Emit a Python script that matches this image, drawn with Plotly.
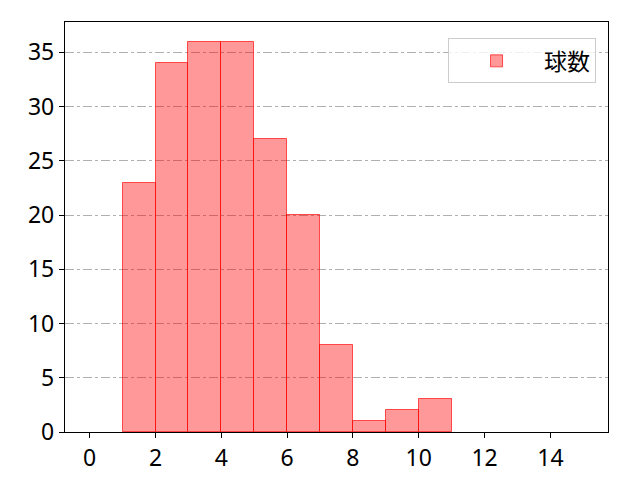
import plotly.graph_objects as go

bin_left = [1, 2, 3, 4, 5, 6, 7, 8, 9, 10]
counts = [23, 34, 36, 36, 27, 20, 8, 1, 2, 3]
series_name = "球数"
x_ticks = [0, 2, 4, 6, 8, 10, 12, 14]
y_ticks = [0, 5, 10, 15, 20, 25, 30, 35]

centers = [b + 0.5 for b in bin_left]

fig = go.Figure()
fig.add_trace(go.Bar(
    x=centers, y=counts, width=1, name=series_name,
    marker=dict(color="rgba(255,0,0,0.4)", line=dict(color="rgba(255,0,0,0.65)", width=1)),
    showlegend=True,
))

font = "Noto Sans, Noto Sans CJK JP"
fig.update_layout(
    width=632, height=472,
    margin=dict(l=57, r=32, t=14, b=48),
    paper_bgcolor="white", plot_bgcolor="white",
    font=dict(family=font, size=23, color="black"),
    bargap=0,
    showlegend=True,
    legend=dict(
        x=0.978, y=0.96, xanchor="right", yanchor="top",
        bgcolor="rgba(255,255,255,0.8)", bordercolor="#cccccc", borderwidth=1,
        font=dict(family="Noto Sans CJK JP", size=23), itemwidth=85,
    ),
    xaxis=dict(
        range=[-0.75, 15.75], tickvals=x_ticks, ticks="outside", ticklen=5,
        tickwidth=1.2, tickcolor="black",
        showline=True, linecolor="black", linewidth=1.4, mirror=True,
        showgrid=False, zeroline=False, automargin=False,
    ),
    yaxis=dict(
        range=[0, 37.8], tickvals=y_ticks, ticks="outside", ticklen=5,
        tickwidth=1.2, tickcolor="black",
        showline=True, linecolor="black", linewidth=1.4, mirror=True,
        showgrid=True, gridcolor="#b0b0b0", griddash="dashdot", gridwidth=1,
        zeroline=False, automargin=False,
    ),
)

fig.write_html("out.html")
